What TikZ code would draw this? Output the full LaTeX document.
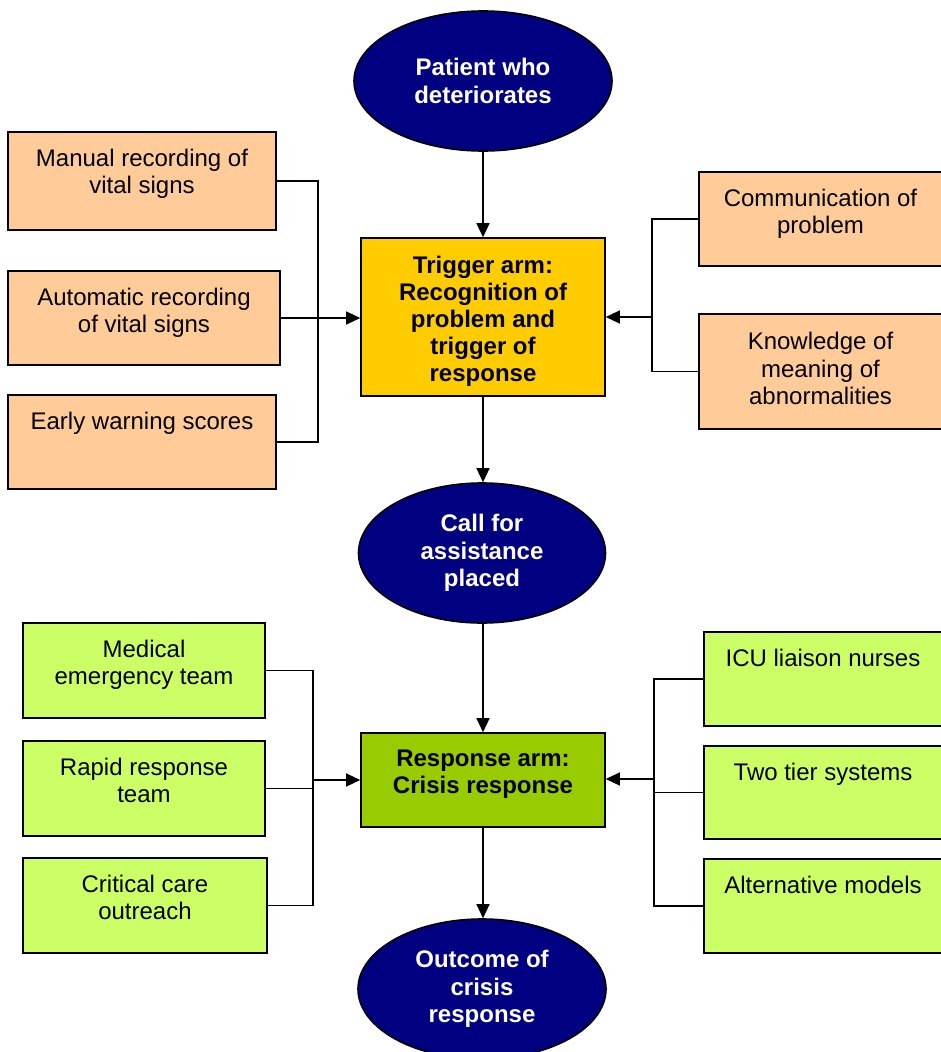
\documentclass[tikz,border=0pt]{standalone}
\usepackage{fontspec}
\setmainfont{Liberation Sans}
\usetikzlibrary{shapes.geometric,arrows.meta}
\definecolor{navy}{HTML}{000080}
\definecolor{peach}{HTML}{FFCC99}
\definecolor{gold}{HTML}{FFCC00}
\definecolor{lime}{HTML}{CCFF66}
\definecolor{olive}{HTML}{99CC00}
\tikzset{
  base/.style={draw=black, line width=1.6pt, inner sep=0pt, font=\fontsize{24}{27.5}\selectfont},
  ellnode/.style={base, ellipse, fill=navy, text=white, align=center, font=\fontsize{24}{27.5}\selectfont\bfseries},
  centbox/.style={base, rectangle},
  ctext/.style={anchor=center, align=center, inner sep=0pt, font=\fontsize{24}{27}\selectfont\bfseries},
  obox/.style={base, rectangle, fill=peach},
  gbox/.style={base, rectangle, fill=lime},
  boxtext/.style={anchor=north, align=center, inner sep=0pt, yshift=-17.5pt, font=\fontsize{24}{27.5}\selectfont},
  conn/.style={line width=1.3pt, draw=black},
  arr/.style={conn, -{Triangle[length=14pt,width=13pt]}},
}
\begin{document}
\begin{tikzpicture}[x=1pt,y=-1pt]
\useasboundingbox (0,0) rectangle (940,1052);
% main column
\node[ellnode, minimum width=258, minimum height=140] (e1) at (483,81) {Patient who\\deteriorates};
\node[centbox, fill=gold, minimum width=244, minimum height=158, label={[ctext, yshift=-4.5pt]center:Trigger arm:\\Recognition of\\problem and\\trigger of\\response}] (trig) at (483,317) {};
\node[ellnode, minimum width=247, minimum height=140] (e2) at (482,553) {Call for\\assistance\\placed};
\node[centbox, fill=olive, minimum width=244, minimum height=94, label={[ctext, yshift=5.5pt]center:Response arm:\\Crisis response}] (resp) at (483,780) {};
\node[ellnode, minimum width=248, minimum height=140] (e3) at (482,989) {Outcome of\\crisis\\response};
% trigger side boxes
\node[obox, minimum width=268, minimum height=98, label={[boxtext]north:Manual recording of\\vital signs}] (m1) at (142,181) {};
\node[obox, minimum width=272, minimum height=94, label={[boxtext]north:Automatic recording\\of vital signs}] (m2) at (144,318) {};
\node[obox, minimum width=268, minimum height=94, label={[boxtext]north:Early warning scores}] (m3) at (142,442) {};
\node[obox, minimum width=243, minimum height=94, label={[boxtext]north:Communication of\\problem}] (c1) at (820.5,219) {};
\node[obox, minimum width=243, minimum height=115, label={[boxtext, yshift=-1.5pt]north:Knowledge of\\meaning of\\abnormalities}] (c2) at (820.5,371.5) {};
% response side boxes
\node[gbox, minimum width=242, minimum height=95, label={[boxtext]north:Medical\\emergency team}] (g1) at (144,670.5) {};
\node[gbox, minimum width=242, minimum height=95, label={[boxtext]north:Rapid response\\team}] (g2) at (144,788.5) {};
\node[gbox, minimum width=244, minimum height=95, label={[boxtext]north:Critical care\\outreach}] (g3) at (145,905.5) {};
\node[gbox, minimum width=238, minimum height=94, label={[boxtext]north:ICU liaison nurses}] (r1) at (823,679) {};
\node[gbox, minimum width=238, minimum height=93, label={[boxtext]north:Two tier systems}] (r2) at (823,792.5) {};
\node[gbox, minimum width=238, minimum height=94, label={[boxtext]north:Alternative models}] (r3) at (823,906) {};
% bus coordinates
\coordinate (lb) at (318,318);
\coordinate (rb) at (652,317);
\coordinate (lg) at (313,780);
\coordinate (rg) at (654,779);
% vertical arrows
\draw[arr] (e1.south) -- (trig.north);
\draw[arr] (trig.south) -- (trig.south |- e2.north);
\draw[arr] (e2.south -| resp.north) -- (resp.north);
\draw[arr] (resp.south) -- (resp.south |- e3.north);
% trigger left bus
\draw[conn] (m1.east) -| (lb) |- (m3.east);
\draw[conn] (m2.east) -- (lb);
\draw[arr] (lb) -- (lb -| trig.west);
% trigger right bus
\draw[conn] (c1.west) -| (rb) |- (c2.west);
\draw[arr] (rb) -- (rb -| trig.east);
% response left bus
\draw[conn] (g1.east) -| (lg) |- (g3.east);
\draw[conn] (g2.east) -- (g2.east -| lg);
\draw[arr] (lg) -- (lg -| resp.west);
% response right bus
\draw[conn] (r1.west) -| (rg) |- (r3.west);
\draw[conn] (r2.west) -- (r2.west -| rg);
\draw[arr] (rg) -- (rg -| resp.east);
\end{tikzpicture}
\end{document}
